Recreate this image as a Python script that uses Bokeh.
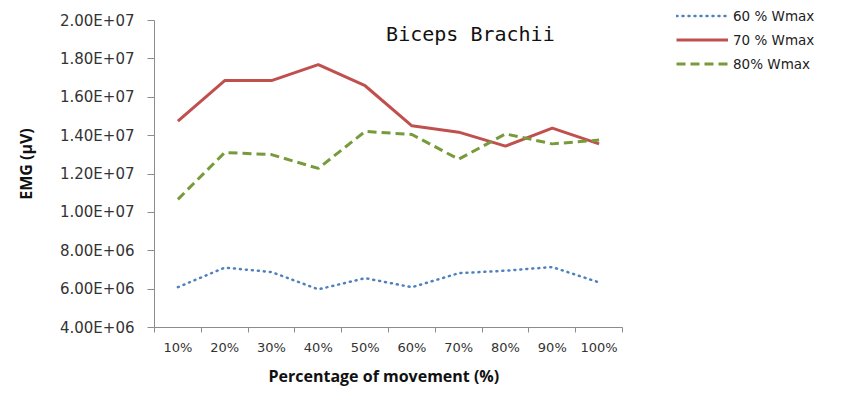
from bokeh.plotting import figure
from bokeh.models import Range1d, FixedTicker, Legend, LegendItem, Label, Title
from bokeh.embed import file_html
from bokeh.resources import INLINE

categories = ["10%", "20%", "30%", "40%", "50%", "60%", "70%", "80%", "90%", "100%"]
w60 = [6.10e6, 7.12e6, 6.89e6, 5.99e6, 6.57e6, 6.10e6, 6.83e6, 6.96e6, 7.15e6, 6.35e6]
w70 = [1.475e7, 1.687e7, 1.687e7, 1.770e7, 1.660e7, 1.451e7, 1.418e7, 1.345e7, 1.439e7, 1.357e7]
w80 = [1.068e7, 1.312e7, 1.301e7, 1.229e7, 1.422e7, 1.406e7, 1.277e7, 1.409e7, 1.357e7, 1.377e7]
y_ticks = [4e6, 6e6, 8e6, 1e7, 1.2e7, 1.4e7, 1.6e7, 1.8e7, 2e7]
series_names = ["60 % Wmax", "70 % Wmax", "80% Wmax"]

x = [i + 0.5 for i in range(len(categories))]
n = len(categories)

# the frame extends to the right and top so the legend (outside the axes) is not clipped
p = figure(width=825, height=391, output_backend="svg", toolbar_location=None,
           x_range=Range1d(0, n * 671 / 468),
           y_range=Range1d(y_ticks[0], y_ticks[-1] + (y_ticks[-1] - y_ticks[0]) * 20 / 307),
           min_border_left=154, min_border_right=0, min_border_top=0, min_border_bottom=40)
p.outline_line_color = None
p.xgrid.grid_line_color = None
p.ygrid.grid_line_color = None
p.background_fill_color = "white"
p.border_fill_color = "white"

axis_col = "#8c8c8c"
# x axis
xa = p.xaxis[0]
xa.bounds = (0, n)
xa.ticker = FixedTicker(ticks=x, minor_ticks=list(range(n + 1)))
xa.major_label_overrides = {xi: c for xi, c in zip(x, categories)}
xa.major_tick_out = 0
xa.major_tick_in = 0
xa.minor_tick_out = 5
xa.minor_tick_in = 0
xa.minor_tick_line_color = axis_col
xa.axis_line_color = axis_col
xa.major_label_text_font = "DejaVu Sans"
xa.major_label_text_font_size = "13px"
xa.major_label_text_color = "#333333"
xa.major_label_standoff = 7

xlabel = Title(text="Percentage of movement (%)", align="left", offset=114,
               text_font="Open Sans", text_font_style="bold", text_font_size="16px",
               text_color="#111111")
p.add_layout(xlabel, "below")

# y axis
ya = p.yaxis[0]
ya.bounds = (y_ticks[0], y_ticks[-1])
ya.ticker = FixedTicker(ticks=y_ticks, minor_ticks=[])
ya.major_label_overrides = {v: f"{v:.2E}" for v in y_ticks}
ya.major_tick_out = 7
ya.major_tick_in = 0
ya.major_tick_line_color = axis_col
ya.axis_line_color = axis_col
ya.minor_tick_line_color = None
ya.major_label_text_font = "DejaVu Sans"
ya.major_label_text_font_size = "15px"
ya.major_label_text_color = "#333333"
ya.major_label_standoff = 13
ya.axis_label = "EMG (µV)"
ya.axis_label_text_font = "Open Sans"
ya.axis_label_text_font_style = "bold"
ya.axis_label_text_font_size = "16px"
ya.axis_label_text_color = "#111111"
ya.axis_label_standoff = 20

r60 = p.line(x, w60, line_color="#4F81BD", line_width=2.5, line_dash="1 5", line_cap="round")
r70 = p.line(x, w70, line_color="#C0504D", line_width=3)
r80 = p.line(x, w80, line_color="#779B3B", line_width=3, line_dash="9 5")

legend = Legend(items=[LegendItem(label=s, renderers=[r]) for s, r in zip(series_names, [r60, r70, r80])],
                location=(522, 255), padding=0, spacing=7, glyph_width=52, glyph_height=17,
                label_height=17, label_standoff=5, border_line_color=None,
                background_fill_alpha=0, label_text_font="DejaVu Sans",
                label_text_font_size="13.5px", label_text_color="#222222")
p.add_layout(legend, "center")

title = Label(x=6.75, y=1.928e7, text="Biceps Brachii",
              text_align="center", text_baseline="alphabetic", text_font="DejaVu Sans Mono",
              text_font_size="20px", text_color="#111111")
p.add_layout(title)

open("out.html", "w").write(file_html(p, INLINE))
